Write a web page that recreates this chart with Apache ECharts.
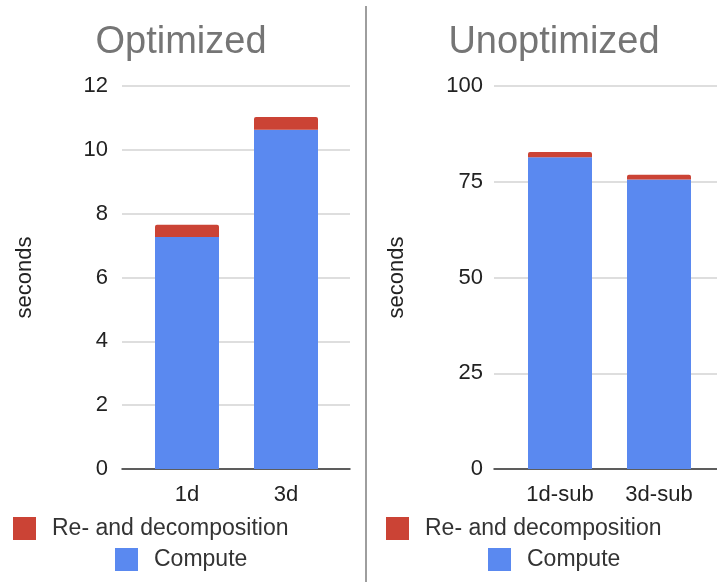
<!DOCTYPE html>
<html>
<head>
<meta charset="utf-8">
<title>Optimized vs Unoptimized</title>
<script src="https://cdn.jsdelivr.net/npm/echarts@6/dist/echarts.min.js"></script>
<style>
  html, body { margin: 0; padding: 0; background: #ffffff; }
  #chart { width: 717px; height: 582px; }
</style>
</head>
<body>
<div id="chart"></div>
<script>
// Run times in seconds, split into compute and re-/decomposition
const optCategories = ['1d', '3d'];
const optCompute = [7.27, 10.63];
const optRedecomp = [0.38, 0.40];

const unoptCategories = ['1d-sub', '3d-sub'];
const unoptCompute = [81.4, 75.6];
const unoptRedecomp = [1.4, 1.2];

const optTicks = { min: 0, max: 12, interval: 2 };
const unoptTicks = { min: 0, max: 100, interval: 25 };

const panelTitles = ['Optimized', 'Unoptimized'];
const seriesNames = ['Re- and decomposition', 'Compute'];
const yName = 'seconds';

const FONT = '"Liberation Sans", Arial, sans-serif';
const BLUE = '#5a89f0';
const RED = '#cb4335';
const TEXT = '#222222';

const chart = echarts.init(document.getElementById('chart'), null, { renderer: 'canvas' });

// each panel: a wide background grid (gridlines + y labels) and a narrower grid holding the bars
const grids = [
  { left: 122, width: 228, top: 86, bottom: 113 },
  { left: 137.5, width: 198, top: 86, bottom: 113 },
  { left: 494, width: 223, top: 86, bottom: 113 },
  { left: 510.5, width: 198, top: 86, bottom: 113 }
];

function baseXAxis(gridIndex) {
  return {
    type: 'value', gridIndex, min: 0, max: 1,
    axisLine: { show: true, lineStyle: { color: '#333333', width: 1.5 } },
    axisTick: { show: false }, axisLabel: { show: false }, splitLine: { show: false }
  };
}
function catXAxis(gridIndex, data) {
  return {
    type: 'category', gridIndex, data,
    axisLine: { show: false }, axisTick: { show: false },
    axisLabel: { color: TEXT, fontSize: 22, fontFamily: FONT, margin: 15 }
  };
}
function shownYAxis(gridIndex, ticks, margin) {
  return {
    type: 'value', gridIndex, min: ticks.min, max: ticks.max, interval: ticks.interval,
    name: yName, nameLocation: 'middle', nameRotate: 90, nameGap: 86,
    nameTextStyle: { color: TEXT, fontSize: 22, fontFamily: FONT },
    axisLine: { show: false }, axisTick: { show: false },
    axisLabel: { color: TEXT, fontSize: 22, fontFamily: FONT, margin },
    splitLine: { show: true, lineStyle: { color: '#d3d3d3', width: 1.5 } }
  };
}
function hiddenYAxis(gridIndex, ticks) {
  return { type: 'value', gridIndex, min: ticks.min, max: ticks.max, show: false, splitLine: { show: false } };
}
function barPair(axisIndex, stack, compute, redecomp) {
  return [
    {
      name: seriesNames[1], type: 'bar', stack, xAxisIndex: axisIndex, yAxisIndex: axisIndex,
      data: compute, barWidth: 64, itemStyle: { color: BLUE }
    },
    {
      name: seriesNames[0], type: 'bar', stack, xAxisIndex: axisIndex, yAxisIndex: axisIndex,
      data: redecomp, barWidth: 64, itemStyle: { color: RED, borderRadius: [2, 2, 0, 0] }
    }
  ];
}
function legendItem(name, left, top) {
  return {
    data: [name], left, top, orient: 'horizontal', padding: 0,
    icon: 'rect', itemWidth: 23, itemHeight: 23, selectedMode: false,
    textStyle: { color: '#333333', fontSize: 23, fontFamily: FONT, padding: [0, 0, 0, 11] }
  };
}

const option = {
  backgroundColor: '#ffffff',
  animation: false,
  grid: grids,
  xAxis: [
    baseXAxis(0),
    catXAxis(1, optCategories),
    baseXAxis(2),
    catXAxis(3, unoptCategories)
  ],
  yAxis: [
    shownYAxis(0, optTicks, 14),
    hiddenYAxis(1, optTicks),
    shownYAxis(2, unoptTicks, 11),
    hiddenYAxis(3, unoptTicks)
  ],
  legend: [
    legendItem(seriesNames[0], 13, 517),
    legendItem(seriesNames[1], 115, 548),
    legendItem(seriesNames[0], 386, 517),
    legendItem(seriesNames[1], 488, 548)
  ],
  series: [
    ...barPair(1, 'opt', optCompute, optRedecomp),
    ...barPair(3, 'unopt', unoptCompute, unoptRedecomp)
  ],
  graphic: [
    {
      type: 'text', x: 181, y: 43,
      style: { text: panelTitles[0], fill: '#757575', font: '38px ' + FONT, textAlign: 'center', textVerticalAlign: 'middle' }
    },
    {
      type: 'text', x: 554, y: 43,
      style: { text: panelTitles[1], fill: '#757575', font: '38px ' + FONT, textAlign: 'center', textVerticalAlign: 'middle' }
    },
    {
      type: 'line', shape: { x1: 366, y1: 6, x2: 366, y2: 582 },
      style: { stroke: '#9e9e9e', lineWidth: 2 }
    }
  ]
};

chart.setOption(option);
</script>
</body>
</html>
